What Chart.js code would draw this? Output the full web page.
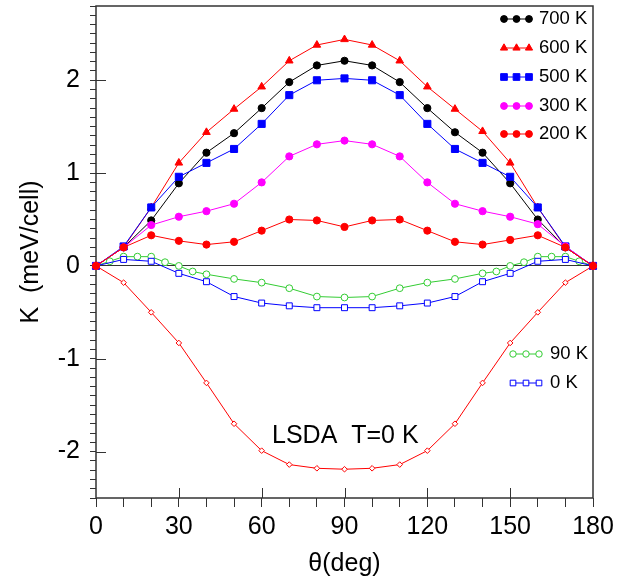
<!DOCTYPE html>
<html>
<head>
<meta charset="utf-8">
<script src="https://cdn.jsdelivr.net/npm/chart.js@4"></script>
<style>
  html, body { margin: 0; padding: 0; background: #fff; }
  #wrap { width: 630px; height: 582px; }
</style>
</head>
<body>
<div id="wrap"><canvas id="chart" width="630" height="582"></canvas></div>
<script>
const FONT = "'Liberation Sans', Arial, sans-serif";

// angle grid (deg)
const theta = [0, 10, 20, 30, 40, 50, 60, 70, 80, 90, 100, 110, 120, 130, 140, 150, 160, 170, 180];
const theta90 = [0, 5, 10, 15, 20, 25, 30, 35, 40, 50, 60, 70, 80, 90, 100, 110, 120, 130, 140, 145, 150, 155, 160, 165, 170, 175, 180];

// K (meV/cell)
const k700 = [0, 0.20, 0.49, 0.89, 1.22, 1.43, 1.70, 1.98, 2.16, 2.21, 2.16, 1.98, 1.70, 1.44, 1.22, 0.89, 0.50, 0.20, 0];
const k600 = [0, 0.20, 0.63, 1.11, 1.44, 1.69, 1.93, 2.21, 2.38, 2.44, 2.38, 2.21, 1.93, 1.69, 1.45, 1.11, 0.63, 0.20, 0];
const k500 = [0, 0.21, 0.63, 0.96, 1.11, 1.26, 1.53, 1.84, 2.00, 2.02, 2.00, 1.84, 1.53, 1.26, 1.11, 0.96, 0.63, 0.21, 0];
const k300 = [0, 0.20, 0.44, 0.53, 0.59, 0.67, 0.90, 1.18, 1.31, 1.35, 1.31, 1.18, 0.90, 0.67, 0.59, 0.53, 0.45, 0.21, 0];
const k200 = [0, 0.20, 0.33, 0.27, 0.23, 0.26, 0.38, 0.50, 0.49, 0.42, 0.49, 0.50, 0.38, 0.26, 0.23, 0.28, 0.33, 0.20, 0];
const k90 = [0, 0.05, 0.10, 0.10, 0.10, 0.04, 0, -0.06, -0.09, -0.14, -0.18, -0.24, -0.33, -0.34, -0.33, -0.24, -0.18, -0.14, -0.08, -0.06, 0, 0.04, 0.10, 0.10, 0.10, 0.05, 0];
const k0 = [0, 0.07, 0.05, -0.08, -0.17, -0.33, -0.40, -0.43, -0.45, -0.45, -0.45, -0.43, -0.40, -0.33, -0.17, -0.08, 0.05, 0.07, 0];
const kLsda = [0, -0.18, -0.50, -0.83, -1.26, -1.70, -1.99, -2.14, -2.18, -2.19, -2.18, -2.14, -1.99, -1.70, -1.26, -0.83, -0.50, -0.18, 0];

const pts = (xs, ys) => xs.map((x, i) => ({ x, y: ys[i] }));

const series = (label, xs, ys, color, style, r, open) => ({
  label,
  data: pts(xs, ys),
  borderColor: color,
  borderWidth: 1,
  pointStyle: style,
  pointRadius: r,
  pointBorderColor: color,
  pointBackgroundColor: open ? "#fff" : color,
  pointBorderWidth: 1,
  tension: 0,
  clip: false,
});

// first dataset ends up drawn on top
const sets = {
  s200: series("200 K", theta, k200, "#ff0000", "circle", 3.6, false),
  s300: series("300 K", theta, k300, "#ff00ff", "circle", 3.6, false),
  s500: series("500 K", theta, k500, "#0000ff", "rect", 5.0, false),
  s600: series("600 K", theta, k600, "#ff0000", "triangle", 4.4, false),
  s700: series("700 K", theta, k700, "#000000", "circle", 3.6, false),
  s0: series("0 K", theta, k0, "#0000ff", "rect", 4.2, true),
  s90: series("90 K", theta90, k90, "#33cc33", "circle", 3.4, true),
  lsda: series("LSDA", theta, kLsda, "#ff0000", "rectRot", 2.8, true),
};

function drawMarker(ctx, ds, x, y, scale) {
  ctx.fillStyle = ds.pointBackgroundColor;
  ctx.strokeStyle = ds.pointBorderColor;
  ctx.lineWidth = ds.pointBorderWidth;
  Chart.helpers.drawPoint(ctx, {
    pointStyle: ds.pointStyle,
    radius: ds.pointRadius * scale,
    rotation: 0,
    borderWidth: ds.pointBorderWidth,
  }, x, y);
}

function drawKey(ctx, ds, xs, y, tx) {
  ctx.save();
  ctx.strokeStyle = ds.borderColor;
  ctx.lineWidth = 1;
  ctx.beginPath();
  ctx.moveTo(xs[0], y);
  ctx.lineTo(xs[xs.length - 1], y);
  ctx.stroke();
  xs.forEach(x => drawMarker(ctx, ds, x, y, 0.95));
  ctx.fillStyle = "#000";
  ctx.font = "18.5px " + FONT;
  ctx.textBaseline = "middle";
  ctx.textAlign = "left";
  ctx.fillText(ds.label, tx, y);
  ctx.restore();
}

const decor = {
  id: "decor",
  beforeDatasetsDraw(chart) {
    const { ctx, chartArea: a, scales } = chart;
    ctx.save();
    ctx.strokeStyle = "#333";
    ctx.lineWidth = 1;
    ctx.beginPath();
    // inner major ticks
    [30, 60, 90, 120, 150].forEach(v => {
      const px = Math.round(scales.x.getPixelForValue(v)) + 0.5;
      ctx.moveTo(px, a.bottom);
      ctx.lineTo(px, a.bottom - 10);
    });
    [-2, -1, 1, 2].forEach(v => {
      const py = Math.round(scales.y.getPixelForValue(v)) + 0.5;
      ctx.moveTo(a.left, py);
      ctx.lineTo(a.left + 10, py);
    });
    ctx.stroke();
    ctx.lineWidth = 1.5;
    ctx.strokeRect(a.left, a.top, a.right - a.left, a.bottom - a.top);
    ctx.restore();
  },
  afterDraw(chart) {
    const ctx = chart.ctx;
    const top = [sets.s700, sets.s600, sets.s500, sets.s300, sets.s200];
    const rows = [19, 48, 77, 106, 134];
    top.forEach((ds, i) => drawKey(ctx, ds, [504, 516.5, 529], rows[i], 539));
    drawKey(ctx, sets.s90, [513, 526, 539], 354, 550);
    drawKey(ctx, sets.s0, [513, 526, 539], 383, 550);

    ctx.save();
    ctx.fillStyle = "#000";
    ctx.font = "25px " + FONT;
    ctx.textBaseline = "alphabetic";
    ctx.fillText("LSDA  T=0 K", 272, 443);
    ctx.restore();
  },
};

const tickFont = { size: 25, family: FONT };

new Chart(document.getElementById("chart"), {
  type: "line",
  data: {
    datasets: [sets.s200, sets.s300, sets.s500, sets.s600, sets.s700, sets.s0, sets.s90, sets.lsda],
  },
  options: {
    responsive: false,
    animation: false,
    events: [],
    layout: { padding: { top: 4, right: 37, left: 0, bottom: 0 } },
    plugins: { legend: { display: false }, tooltip: { enabled: false } },
    scales: {
      x: {
        type: "linear",
        min: 0,
        max: 180,
        ticks: {
          stepSize: 10,
          autoSkip: false,
          maxRotation: 0,
          padding: 5,
          color: "#000",
          font: tickFont,
          callback: v => (v % 30 === 0 ? String(v) : ""),
        },
        grid: { drawOnChartArea: false, tickLength: 9, color: "#333", lineWidth: 1 },
        border: { display: false },
        title: { display: true, text: "θ(deg)", color: "#000", font: tickFont, padding: { top: 0, bottom: 3 } },
        afterFit: s => { s.height = 84; s.paddingLeft = 0; s.paddingRight = 0; },
      },
      y: {
        type: "linear",
        min: -2.5,
        max: 2.8,
        ticks: {
          stepSize: 0.1,
          autoSkip: false,
          padding: 10,
          color: "#000",
          font: tickFont,
          callback: v => (Math.abs(v - Math.round(v)) < 1e-6 ? String(Math.round(v) || 0) : ""),
        },
        grid: {
          drawOnChartArea: true,
          tickLength: 6,
          tickColor: "#333",
          color: c => (c.tick && Math.abs(c.tick.value) < 1e-9 ? "#333" : "rgba(0,0,0,0)"),
          lineWidth: 1,
        },
        border: { display: false },
        title: { display: true, text: "K  (meV/cell)", color: "#000", font: tickFont, padding: { top: 16, bottom: 0 } },
        afterFit: s => { s.width = 96; s.paddingTop = 0; s.paddingBottom = 0; },
      },
    },
  },
  plugins: [decor],
});
</script>
</body>
</html>
